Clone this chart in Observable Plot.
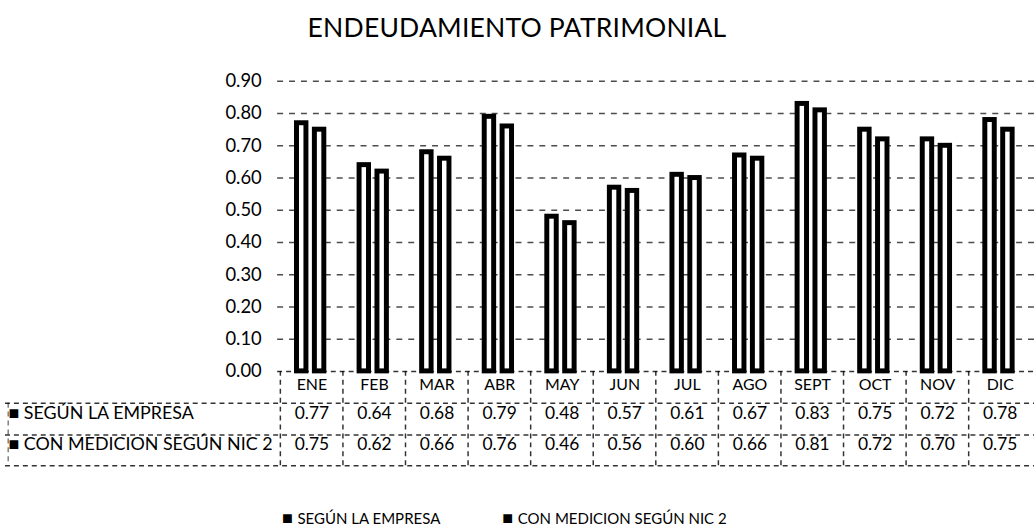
<!DOCTYPE html>
<html>
<head>
<meta charset="utf-8">
<script src="https://cdn.jsdelivr.net/npm/d3@7"></script>
<script src="https://cdn.jsdelivr.net/npm/@observablehq/plot@0.6"></script>
<style>
  html, body { margin: 0; padding: 0; background: #fff; overflow: hidden; width: 1034px; height: 532px; }
  #wrap { position: relative; width: 1034px; height: 532px; font-family: Lato, "Open Sans", sans-serif; color: #000; }
  #title { position: absolute; top: 11px; left: 0; width: 1034px; text-align: center; font-size: 26.5px; letter-spacing: 0.2px; }
  #chart { position: absolute; top: 60px; left: 0; }
  #legend { position: absolute; top: 509px; left: 282px; font-size: 15px; white-space: nowrap; }
  #legend span.item { margin-right: 62px; }
  #legend span.sw { font-size: 18px; line-height: 15px; }
</style>
</head>
<body>
<div id="wrap">
  <div id="title">ENDEUDAMIENTO PATRIMONIAL</div>
  <div id="chart"></div>
  <div id="legend"></div>
</div>
<script>
const months = ["ENE","FEB","MAR","ABR","MAY","JUN","JUL","AGO","SEPT","OCT","NOV","DIC"];
const seriesNames = ["SEGÚN LA EMPRESA", "CON MEDICION SEGÚN NIC 2"];
const empresa = [0.77,0.64,0.68,0.79,0.48,0.57,0.61,0.67,0.83,0.75,0.72,0.78];
const nic2 = [0.75,0.62,0.66,0.76,0.46,0.56,0.60,0.66,0.81,0.72,0.70,0.75];
const yTicks = [0,0.1,0.2,0.3,0.4,0.5,0.6,0.7,0.8,0.9];

const W = 1041, H = 414, ML = 279, MT = 21, MB = 101;
const band = (W - ML) / months.length;
const frameH = H - MT - MB;
const dash = {stroke: "#000", strokeWidth: 1.5, strokeDasharray: "5 4", strokeOpacity: 0.8};

const barStyle = {fill: "white", stroke: "black", strokeWidth: 5};

const plot = Plot.plot({
  width: W, height: H,
  marginLeft: ML, marginRight: 0, marginTop: MT, marginBottom: MB,
  x: {type: "band", domain: months, padding: 0, axis: null},
  y: {domain: [0, 0.9], axis: null},
  style: {fontFamily: "Lato, 'Open Sans', sans-serif", background: "white", color: "black", overflow: "visible"},
  marks: [
    Plot.gridY({ticks: yTicks.slice(1), stroke: "#000", strokeOpacity: 0.7, strokeWidth: 1.5, strokeDasharray: "6 6"}),
    Plot.axisY({ticks: yTicks, tickSize: 0, tickPadding: 16, tickFormat: d => d.toFixed(2), fontSize: 18.5}),
    Plot.barY(months, {x: d => d, y: (d, i) => empresa[i], ...barStyle, insetLeft: 16.5, insetRight: band - 26.5}),
    Plot.barY(months, {x: d => d, y: (d, i) => nic2[i], ...barStyle, insetLeft: 34.5, insetRight: band - 44.5}),
    // table lines
    Plot.ruleY([0], {...dash, dy: 0}),
    Plot.ruleY([0], {...dash, dy: 32, insetLeft: -274}),
    Plot.ruleY([0], {...dash, dy: 64, insetLeft: -274}),
    Plot.ruleY([0], {...dash, dy: 95, insetLeft: -274}),
    Plot.ruleX(months, {x: d => d, dx: -band / 2, ...dash, insetTop: frameH, insetBottom: -95}),
    Plot.ruleX([months[0]], {x: d => d, dx: -band / 2 - 274, ...dash, strokeOpacity: 0.5, insetTop: frameH + 32, insetBottom: -95}),
    // table header and values
    Plot.text(months, {x: d => d, text: d => d, frameAnchor: "bottom", dy: 19, fontSize: 16}),
    Plot.text(months, {x: d => d, text: (d, i) => empresa[i].toFixed(2), frameAnchor: "bottom", dy: 48, fontSize: 17.5}),
    Plot.text(months, {x: d => d, text: (d, i) => nic2[i].toFixed(2), frameAnchor: "bottom", dy: 79, fontSize: 17.5}),
    Plot.text([seriesNames[0]], {text: d => "■ " + d, frameAnchor: "bottom-left", textAnchor: "start", dx: -271, dy: 48, fontSize: 18}),
    Plot.text([seriesNames[1]], {text: d => "■ " + d, frameAnchor: "bottom-left", textAnchor: "start", dx: -271, dy: 79, fontSize: 18})
  ]
});
document.getElementById("chart").appendChild(plot);

const legend = document.getElementById("legend");
seriesNames.forEach(n => {
  const s = document.createElement("span");
  s.className = "item";
  const sw = document.createElement("span");
  sw.className = "sw";
  sw.textContent = "■ ";
  s.appendChild(sw);
  s.appendChild(document.createTextNode(n));
  legend.appendChild(s);
});
</script>
</body>
</html>
